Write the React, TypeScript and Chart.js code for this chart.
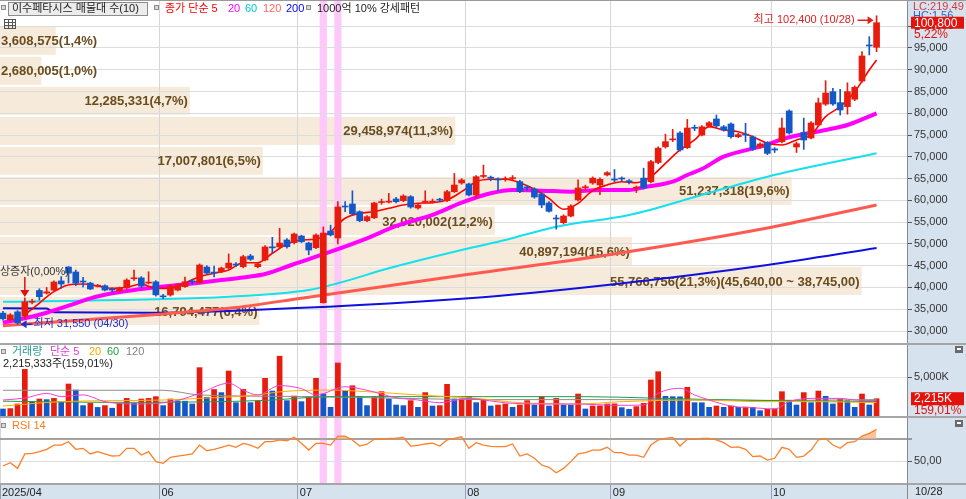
import React, { useEffect, useRef } from "react";
import { Chart, registerables } from "chart.js";

Chart.register(...registerables);

const F = "'Liberation Sans', 'Noto Sans CJK KR', sans-serif";
const AXIS_BG = "#d7e2ef";
const RED = "#e81c0e";
const BLUE = "#1458c8";
const PINK = "#ffc8fb";

// ---------------- data ----------------
const opens = [
  34100, 32600, 34400, 33400, 36600, 39300, 38700, 39400, 41500, 44700,
  43550, 41400, 41000, 40300, 40400, 39500, 39200, 39900, 42000, 42200,
  41000, 41300, 37900, 38270, 39400, 40180, 41400, 41100, 44700, 43400,
  43620, 44470, 45300, 44770, 47230, 44770, 46300, 49200, 49300, 50900,
  50300, 51820, 50200, 49130, 36500, 52970, 51360, 58600, 59170, 57400,
  55340, 56000, 59500, 59600, 60320, 59930, 60850, 58250, 59600, 59600,
  60200, 59930, 62000, 64000, 63770, 61240, 65500, 65200, 64800, 64800,
  65000, 64290, 62950, 62600, 61470, 59400, 55900, 54880, 56400, 60100,
  62900, 64000, 63540, 65830, 64800, 65000, 64400, 62800, 65100, 64290,
  68700, 72300, 73900, 75480, 72100, 76700, 75000, 77100, 78700, 76900,
  77550, 74630, 75100, 74560, 72260, 73250, 71700, 73480, 80530, 72260,
  75600, 74330, 77320, 82100, 84970, 82440, 81520, 83220, 87400, 95600,
  95160,
];
const highs = [
  34500, 34000, 34700, 37600, 37300, 39700, 40000, 41500, 42500, 44800,
  44000, 42300, 41200, 40700, 40600, 39900, 40100, 42000, 44000, 42500,
  43600, 41600, 38400, 40600, 40900, 42400, 41800, 45400, 45000, 44900,
  44700, 47700, 45700, 47400, 47600, 45600, 49600, 51500, 53600, 51200,
  52500, 52000, 50400, 52300, 53900, 54300, 59700, 59700, 62200, 57600,
  56500, 59600, 60300, 61600, 60700, 61300, 61100, 59200, 62200, 60300,
  60500, 62300, 66200, 65000, 64000, 65700, 68100, 65600, 65200, 65400,
  65700, 64600, 63400, 62900, 61800, 59700, 56600, 56700, 59000, 64700,
  63500, 65400, 65200, 66600, 67100, 65400, 64800, 63300, 67400, 69200,
  72300, 75200, 76300, 75800, 78600, 77300, 77200, 78100, 79600, 77200,
  77800, 75400, 77700, 74800, 73200, 73500, 72100, 78900, 80800, 73400,
  78900, 78100, 83500, 87500, 85750, 85500, 87000, 86300, 94150, 97600,
  102400,
];
const lows = [
  32500, 32300, 31550, 32800, 36200, 37100, 38500, 39200, 39800, 41000,
  40400, 40100, 39500, 40100, 39200, 38900, 39000, 39700, 41600, 40000,
  40800, 38000, 37400, 38000, 39200, 40000, 40700, 40900, 43000, 42400,
  43400, 44300, 44800, 44500, 46200, 44500, 46100, 47900, 49100, 49000,
  50000, 50300, 47500, 48900, 36400, 51800, 50000, 57400, 56700, 55100,
  55100, 55800, 59100, 59400, 59400, 59700, 58200, 58000, 59400, 59400,
  59700, 59700, 61800, 63700, 61000, 60500, 65200, 64500, 62200, 64400,
  64700, 61800, 62300, 60500, 58300, 57300, 53400, 54600, 56200, 59900,
  62400, 63700, 61300, 65600, 64300, 64500, 63800, 61800, 62600, 64000,
  68400, 72000, 73500, 71300, 71900, 76000, 74800, 76900, 76900, 75900,
  74300, 74400, 73500, 71500, 72000, 70500, 71000, 73200, 75200, 71000,
  71700, 74100, 77000, 81800, 81800, 79600, 79800, 82900, 87100, 93400,
  94150,
];
const closes = [
  32800, 33700, 31900, 36700, 36800, 37880, 39000, 41250, 40800, 43300,
  41000, 41250, 39650, 40400, 39400, 39400, 39900, 41700, 42100, 40300,
  41100, 38300, 37850, 40340, 40560, 41320, 41300, 45160, 43300, 43300,
  44470, 45600, 45150, 47070, 46470, 45390, 49300, 49100, 50200, 49360,
  52280, 50510, 48600, 52050, 52500, 52050, 58480, 58480, 56900, 55340,
  56250, 59400, 59600, 59750, 59700, 61010, 58480, 58940, 59750, 59800,
  60050, 62000, 63530, 64680, 61240, 65440, 65600, 65100, 64680, 64910,
  65140, 62000, 62850, 60780, 58940, 57500, 55730, 56400, 58710, 62850,
  63100, 65100, 64830, 66360, 64680, 64910, 64290, 62900, 62850, 68890,
  72000, 73500, 74100, 71580, 76630, 76550, 76900, 77850, 77100, 76170,
  74630, 75100, 75000, 71800, 72950, 70800, 71580, 76630, 75480, 73020,
  73870, 77780, 82400, 84650, 82140, 80760, 84970, 85980, 93170, 95460,
  100800,
];
// volume in thousands of shares
const volumesK = [
  900, 950, 1540, 5980, 1840, 2180, 2100, 2260, 1840, 4100,
  3330, 1330, 1620, 1100, 1330, 1000, 1620, 2260, 1620, 2180,
  2260, 2480, 1330, 2180, 1920, 1900, 1540, 6200, 2400, 3400,
  3000, 5770, 1710, 3420, 1710, 1920, 4830, 3200, 7670, 1970,
  2560, 1840, 2480, 4830, 2820, 1110, 6800, 3250, 3880, 2530,
  1330, 2480, 3120, 2180, 1410, 1330, 1970, 1110, 3000, 1280,
  1330, 4060, 2180, 2200, 2480, 1710, 2140, 1280, 1410, 1540,
  1110, 1410, 1970, 1410, 2480, 1280, 2260, 1410, 1400, 2820,
  900, 1280, 1300, 1540, 1560, 1070, 860, 1200, 1620, 4620,
  5680, 2530, 2480, 2460, 3680, 1710, 1700, 1110, 1280, 1110,
  1280, 1110, 1150, 1100, 680, 860, 920, 3120, 1970, 1410,
  3000, 1710, 3200, 2530, 1540, 2180, 1970, 1110, 2820, 1410,
  2215,
];
const rsi14 = [
  45.4, 48.4, 43.2, 56.5, 57.1, 58.6, 60.8, 64.7, 64.7, 67.8,
  60.8, 61.7, 56.5, 58.6, 56.5, 54.6, 55.0, 61.7, 61.7, 55.5,
  58.6, 49.4, 47.9, 53.4, 54.5, 55.5, 56.5, 64.7, 59.5, 60.8,
  62.6, 64.7, 62.6, 66.3, 64.7, 61.7, 67.8, 67.8, 69.4, 68.5,
  71.8, 66.3, 60.1, 66.3, 66.3, 64.7, 73.0, 73.0, 69.4, 63.8,
  65.5, 70.0, 70.0, 70.9, 71.0, 71.8, 63.8, 64.5, 65.7, 66.5,
  63.8, 69.4, 70.9, 72.4, 61.7, 66.9, 64.7, 63.5, 63.2, 63.2,
  65.7, 54.6, 56.5, 52.5, 46.3, 44.2, 39.2, 43.2, 49.4, 56.5,
  57.7, 60.1, 60.1, 62.6, 57.7, 57.7, 55.5, 55.5, 53.4, 64.7,
  69.4, 70.9, 71.8, 63.8, 70.0, 70.0, 70.9, 70.9, 69.4, 66.9,
  62.6, 63.0, 60.8, 54.0, 54.6, 50.9, 52.5, 62.6, 60.8, 53.4,
  54.6, 60.1, 69.4, 70.9, 64.7, 61.7, 66.9, 67.8, 73.0, 75.5,
  79.2,
];

// moving averages: [day index, value]
const ma5Pts = [
  [3, 33680], [5, 36430], [7, 39030], [9, 40570], [11, 40800], [13, 40340], [15, 39800], [17, 40030],
  [19, 40800], [21, 39800], [23, 39800], [25, 41090], [27, 42470], [29, 43250], [31, 44010], [33, 45690],
  [35, 45690], [37, 47850], [39, 49980], [41, 50900], [43, 51060], [45, 52810], [47, 55890], [49, 57040],
  [51, 57400], [53, 58180], [55, 58940], [57, 59330], [59, 59470], [61, 60090], [63, 62000], [65, 64290],
  [67, 64850], [69, 64850], [71, 64060], [73, 62540], [75, 60480], [77, 57950], [79, 59330], [81, 62230],
  [83, 63540], [85, 64290], [87, 64060], [89, 65440], [91, 68520], [93, 71580], [95, 73870], [97, 76930],
  [99, 76170], [101, 75780], [103, 74630], [105, 73110], [107, 72720], [109, 73870], [111, 75020],
  [113, 79230], [115, 81520], [117, 84970], [119, 89950], [120, 92250],
];
const ma20Pts = [
  [0, 31900], [3, 32920], [6, 34200], [9, 35810], [12, 37510], [15, 38660], [18, 39420], [21, 40040],
  [24, 40570], [27, 41090], [30, 41700], [33, 42300], [36, 43090], [40, 45390], [45, 48220], [50, 51290],
  [54, 54120], [59, 56650], [63, 59470], [67, 61630], [70, 62390], [74, 62230], [78, 62000], [82, 62390],
  [86, 62390], [88, 63010], [92, 64290], [94, 65830], [96, 67200], [99, 70040], [104, 72340], [108, 74490],
  [113, 76170], [116, 77320], [120, 80000],
];
const ma60Pts = [
  [0, 36700], [31, 37880], [42, 39420], [46, 40960], [53, 44400], [64, 49000], [69, 50900], [76, 53960],
  [86, 56650], [96, 61240], [105, 65440], [120, 70820],
];
const ma120Pts = [
  [0, 31220], [11, 32530], [22, 33900], [32, 35400], [41, 37540], [64, 43020], [83, 47460], [105, 53660], [120, 58940],
];
const ma200Pts = [
  [0, 35210], [6, 35150], [7, 34300], [20, 34200], [31, 34600], [64, 37500], [83, 40570], [105, 45160], [120, 49060],
];
const vma5Pts = [
  [0, 2050], [3, 2300], [6, 2900], [8, 2500], [11, 2700], [14, 1840], [18, 1540], [21, 1600], [24, 2000],
  [27, 2900], [31, 4200], [33, 3300], [35, 2700], [38, 3900], [41, 3500], [43, 2700], [47, 3750], [50, 3300],
  [54, 2350], [57, 2050], [60, 1710], [64, 2260], [66, 2050], [70, 1620], [75, 1540], [79, 1540], [84, 1370],
  [88, 1400], [90, 2900], [93, 3550], [95, 2700], [97, 2050], [100, 1280], [104, 1000], [106, 900], [108, 1840],
  [111, 2260], [115, 2260], [117, 2050], [120, 1970],
];
const vma20Pts = [
  [0, 1280], [8, 1840], [22, 2050], [27, 2260], [35, 2700], [38, 3100], [45, 3330], [50, 3120], [57, 2700],
  [65, 2260], [71, 1710], [79, 1540], [85, 1840], [96, 2050], [104, 1840], [112, 1840], [120, 1710],
];
const vma60Pts = [
  [0, 1900], [14, 1750], [27, 1800], [36, 2000], [45, 2480], [66, 2480], [80, 2480], [89, 2300], [96, 2140],
  [104, 2000], [120, 1840],
];
const vma120Pts = [
  [0, 3300], [22, 3300], [27, 2700], [41, 2500], [55, 2260], [66, 2100], [83, 2100], [105, 2000], [120, 2100],
];

// volume profile (매물대), top band first
const bandVolumes = [3608575, 2680005, 12285331, 29458974, 17007801, 51237318, 32020002, 40897194, 55766756, 16794477];
const bandPct = ["1,4", "1,0", "4,7", "11,3", "6,5", "19,6", "12,2", "15,6", "21,3", "6,4"];
const BAND_BASE = 31150;
const BAND_STEP = 6895;
const maxBandRange = "(45,640,00 ~ 38,745,00)";

const priceTicks = [30000, 35000, 40000, 45000, 50000, 55000, 60000, 65000, 70000, 75000, 80000, 85000, 90000, 95000, 100000];
const volTicks = [5000];
const rsiTicks = [50, 70];
const monthTickIdx = [-0.41, 21.5, 40.5, 63.5, 83.5, 105.5];
const monthLabels = ["2025/04", "06", "07", "08", "09", "10"];
const lastDateLabel = "10/28";
const signalIdx = [44, 46];
const rightsIdx = 3;

// ---------------- helpers ----------------
const X_MIN = -0.41;
const X_MAX = 124.18;
const idx = closes.map((_, i) => i);
const candleColor = idx.map((i) => (closes[i] >= opens[i] ? RED : BLUE));
const volColor = idx.map((i) => (i > 0 && volumesK[i] >= volumesK[i - 1] ? RED : BLUE));
const fmt = (n: number) => Math.round(n).toLocaleString("en-US");

function txt(ctx: any, s: string, x: number, y: number, color: string, font = `11px ${F}`, align = "left") {
  ctx.font = font;
  ctx.fillStyle = color;
  ctx.textAlign = align;
  ctx.textBaseline = "middle";
  ctx.fillText(s, x, y);
}
function sq(ctx: any, x: number, y: number) {
  ctx.fillStyle = "#8c8c8c";
  ctx.fillRect(x, y, 5, 5);
  ctx.fillStyle = "#d8d8d8";
  ctx.fillRect(x + 1, y + 1, 3, 3);
}
function icon(ctx: any, x: number, y: number) {
  ctx.fillStyle = "#6a6a6a";
  ctx.fillRect(x, y, 8, 7);
  ctx.fillStyle = "#ffffff";
  ctx.fillRect(x + 2, y + 2, 4, 2);
}
function paintBg(chart: any) {
  const { ctx, chartArea: a, width, height, scales } = chart;
  ctx.save();
  ctx.fillStyle = AXIS_BG;
  ctx.fillRect(0, 0, width, height);
  ctx.fillStyle = "#ffffff";
  ctx.fillRect(a.left, a.top, a.right - a.left, a.bottom - a.top);
  ctx.restore();
  return { ctx, a, xs: scales.x };
}
function paintSignals(chart: any) {
  const { ctx, chartArea: a, scales } = chart;
  ctx.save();
  ctx.fillStyle = PINK;
  signalIdx.forEach((i) => {
    const x = scales.x.getPixelForValue(i);
    ctx.fillRect(x - 3.6, a.top, 7.2, a.bottom - a.top);
  });
  ctx.restore();
}
function hline(ctx: any, y: number, w: number, lw = 2, color = "#a6a6a6") {
  ctx.fillStyle = color;
  ctx.fillRect(0, y, w, lw);
}

function xScale(showLabels: boolean) {
  return {
    type: "linear",
    min: X_MIN,
    max: X_MAX,
    offset: false,
    afterBuildTicks: (s: any) => {
      s.ticks = (showLabels ? monthTickIdx : monthTickIdx.slice(1)).map((v) => ({ value: v }));
    },
    grid: { offset: false, color: "#d6d6d6", lineWidth: 1, drawTicks: showLabels, tickLength: 15, tickColor: "#94a0b4" },
    border: { display: false },
    ticks: {
      display: showLabels,
      autoSkip: false,
      maxRotation: 0,
      minRotation: 0,
      align: "start",
      padding: -13,
      labelOffset: 2,
      color: "#222",
      font: { family: F, size: 11 },
      callback: (_v: any, i: number) => monthLabels[i],
    },
    afterFit: (s: any) => {
      s.height = showLabels ? 15 : 0;
      s.paddingLeft = 0;
      s.paddingRight = 0;
    },
  };
}
function yScale(min: number, max: number, ticks: number[], label: (v: number) => string, gridColor: any, gridWidth: any) {
  return {
    type: "linear",
    position: "right",
    min,
    max,
    afterBuildTicks: (s: any) => {
      s.ticks = ticks.map((v) => ({ value: v }));
    },
    grid: { color: gridColor, lineWidth: gridWidth, drawTicks: true, tickLength: 5, tickColor: "#555", tickWidth: 1 },
    border: { display: true, color: "#8a8a8a", width: 1 },
    ticks: { color: "#333", font: { family: F, size: 11 }, padding: 2, callback: (v: number) => label(v) },
    afterFit: (s: any) => {
      s.width = 59;
      s.paddingTop = 0;
      s.paddingBottom = 0;
    },
  };
}
const lineDs = (pts: number[][], color: string, width: number, order: number, yAxisID = "y") => ({
  type: "line",
  data: pts.map(([x, y]) => ({ x, y })),
  borderColor: color,
  borderWidth: width,
  pointRadius: 0,
  cubicInterpolationMode: "monotone",
  fill: false,
  order,
  yAxisID,
});
const baseOptions = {
  animation: false,
  responsive: false,
  events: [],
  layout: { padding: 0 },
  plugins: { legend: { display: false }, tooltip: { enabled: false } },
};

// ---------------- main price panel ----------------
const mainPlugin = {
  id: "mainDeco",
  beforeDraw(chart: any) {
    const { ctx, a } = paintBg(chart);
    const ys = chart.scales.y;
    const maxV = Math.max(...bandVolumes);
    const W = a.right - a.left;
    ctx.save();
    bandVolumes.forEach((v, k) => {
      const lo = BAND_BASE + (bandVolumes.length - 1 - k) * BAND_STEP;
      const yTop = ys.getPixelForValue(lo + BAND_STEP) + 1;
      const yBot = ys.getPixelForValue(lo) - 1;
      ctx.fillStyle = "#f6eadb";
      ctx.fillRect(a.left, yTop, (v / maxV) * 0.95 * W, yBot - yTop);
    });
    ctx.restore();
    paintSignals(chart);
  },
  beforeDatasetsDraw(chart: any) {
    const { ctx, chartArea: a } = chart;
    const ys = chart.scales.y;
    const maxV = Math.max(...bandVolumes);
    const W = a.right - a.left;
    ctx.save();
    ctx.font = `bold 13px ${F}`;
    bandVolumes.forEach((v, k) => {
      const lo = BAND_BASE + (bandVolumes.length - 1 - k) * BAND_STEP;
      const yc = (ys.getPixelForValue(lo + BAND_STEP) + ys.getPixelForValue(lo)) / 2 + 1;
      let s = `${fmt(v)}(${bandPct[k]}%)`;
      if (v === maxV) s += maxBandRange;
      const tw = ctx.measureText(s).width;
      const end = a.left + (v / maxV) * 0.95 * W - 2;
      const x = Math.max(end, a.left + 1 + tw);
      txt(ctx, s, x, yc, "#6b4c1d", `bold 13px ${F}`, "right");
    });
    ctx.restore();
  },
  afterDraw(chart: any) {
    const { ctx, width, scales } = chart;
    const xs = scales.x;
    const ys = scales.y;
    ctx.save();
    hline(ctx, 0, width, 1, "#9a9a9a");
    // legend row
    sq(ctx, 1, 5);
    ctx.fillStyle = "#ececec";
    ctx.fillRect(8, 2, 139, 13);
    ctx.strokeStyle = "#8c8c8c";
    ctx.lineWidth = 1;
    ctx.strokeRect(8.5, 2.5, 139, 13);
    txt(ctx, "이수페타시스 매물대 수(10)", 12, 9, "#222");
    sq(ctx, 154, 5);
    const parts: [string, number, string][] = [
      ["종가 단순 5", 165, "#ff0000"],
      ["20", 228, "#ff00ff"],
      ["60", 245, "#00c8d8"],
      ["120", 263, "#ff6464"],
      ["200", 286, "#0000ff"],
    ];
    parts.forEach(([s, x, c]) => txt(ctx, s, x, 9, c));
    sq(ctx, 306, 5);
    txt(ctx, "1000억 10% 강세패턴", 317, 9, "#222");
    // table icon
    ctx.strokeStyle = "#555";
    ctx.strokeRect(4.5, 19.5, 11, 9);
    ctx.beginPath();
    ctx.moveTo(4.5, 22.5); ctx.lineTo(15.5, 22.5);
    ctx.moveTo(4.5, 25.5); ctx.lineTo(15.5, 25.5);
    ctx.moveTo(8.5, 19.5); ctx.lineTo(8.5, 28.5);
    ctx.moveTo(12.5, 19.5); ctx.lineTo(12.5, 28.5);
    ctx.stroke();

    // highest price annotation
    let hi = 0;
    highs.forEach((h, i) => { if (h > highs[hi]) hi = i; });
    const hx = xs.getPixelForValue(hi);
    const hy = ys.getPixelForValue(highs[hi]) + 4.5;
    txt(ctx, `최고 ${fmt(highs[hi])} (10/28)`, hx - 22, hy, "#e01e1e", `11px ${F}`, "right");
    ctx.strokeStyle = "#e01e1e";
    ctx.fillStyle = "#e01e1e";
    ctx.lineWidth = 1.5;
    ctx.beginPath(); ctx.moveTo(hx - 19, hy); ctx.lineTo(hx - 8, hy); ctx.stroke();
    ctx.beginPath(); ctx.moveTo(hx - 3, hy); ctx.lineTo(hx - 9, hy - 4); ctx.lineTo(hx - 9, hy + 4); ctx.closePath(); ctx.fill();

    // lowest price annotation
    let lo = 0;
    lows.forEach((l, i) => { if (l < lows[lo]) lo = i; });
    const lx = xs.getPixelForValue(lo);
    const ly = ys.getPixelForValue(lows[lo]);
    ctx.strokeStyle = "#1a2fd0";
    ctx.fillStyle = "#1a2fd0";
    ctx.beginPath(); ctx.moveTo(lx + 9, ly); ctx.lineTo(lx + 15, ly); ctx.stroke();
    ctx.beginPath(); ctx.moveTo(lx + 3, ly); ctx.lineTo(lx + 9, ly - 4); ctx.lineTo(lx + 9, ly + 4); ctx.closePath(); ctx.fill();
    txt(ctx, `최저 ${fmt(lows[lo])} (04/30)`, lx + 16, ly, "#1a2fd0");

    // rights-offering marker
    const rx = xs.getPixelForValue(rightsIdx);
    const ry = ys.getPixelForValue(highs[rightsIdx]) - 1;
    ctx.strokeStyle = "#e01010";
    ctx.fillStyle = "#e01010";
    ctx.lineWidth = 1.5;
    ctx.beginPath(); ctx.moveTo(rx, ry - 20); ctx.lineTo(rx, ry - 6); ctx.stroke();
    ctx.beginPath(); ctx.moveTo(rx, ry); ctx.lineTo(rx - 4.5, ry - 7); ctx.lineTo(rx + 4.5, ry - 7); ctx.closePath(); ctx.fill();
    ctx.font = `11px ${F}`;
    const w1 = ctx.measureText("유").width;
    txt(ctx, "유상증자(0,00%)", -w1, ry - 25, "#333");

    // right-axis badges
    txt(ctx, "LC:219,49", 913, 7, "#d83a3a", `11px ${F}`);
    txt(ctx, "HC:1,56", 913, 16, "#2f5fc0", `11px ${F}`);
    const cy = ys.getPixelForValue(closes[closes.length - 1]);
    ctx.fillStyle = "#e3120b";
    ctx.fillRect(911, cy - 6, 53, 12);
    txt(ctx, fmt(closes[closes.length - 1]), 914, cy + 0.5, "#ffffff", `12px ${F}`);
    txt(ctx, "5,22%", 914, cy + 12, "#e3120b", `12px ${F}`);
    ctx.restore();
  },
};

function mainConfig(): any {
  return {
    type: "bar",
    data: {
      datasets: [
        {
          type: "bar",
          data: idx.map((i) => ({ x: i, y: [lows[i], highs[i]] })),
          backgroundColor: candleColor,
          barThickness: 1,
          grouped: false,
          order: 0,
        },
        {
          type: "bar",
          data: idx.map((i) => ({ x: i, y: [opens[i], closes[i]] })),
          backgroundColor: candleColor,
          barThickness: 6,
          minBarLength: 1,
          grouped: false,
          order: 0,
        },
        lineDs(ma5Pts, "#ff0000", 1.6, 1),
        lineDs(ma20Pts, "#ff00ff", 4, 2),
        lineDs(ma60Pts, "#14e0ee", 2, 3),
        lineDs(ma120Pts, "#ff5a50", 3, 4),
        lineDs(ma200Pts, "#1010e0", 2, 5),
      ],
    },
    options: {
      ...baseOptions,
      scales: {
        x: xScale(false),
        y: yScale(27245, 106022, priceTicks, (v) => fmt(v), "#dcdcdc", 1),
      },
    },
    plugins: [mainPlugin],
  };
}

// ---------------- volume panel ----------------
const volPlugin = {
  id: "volDeco",
  beforeDraw(chart: any) {
    paintBg(chart);
    paintSignals(chart);
  },
  afterDraw(chart: any) {
    const { ctx, width, scales } = chart;
    ctx.save();
    hline(ctx, 0, width, 2);
    sq(ctx, 1, 6);
    txt(ctx, "거래량", 12, 9, "#2a9a9a");
    txt(ctx, "단순 5", 50, 9, "#e040d0");
    txt(ctx, "20", 89, 9, "#f0a800");
    txt(ctx, "60", 107, 9, "#1e9e46");
    txt(ctx, "120", 126, 9, "#808080");
    const last = volumesK[volumesK.length - 1];
    txt(ctx, "2,215,333주(159,01%)", 3, 21, "#222");
    icon(ctx, 955, 3);
    const cy = scales.y.getPixelForValue(last);
    ctx.fillStyle = "#e3120b";
    ctx.fillRect(911, cy - 6.5, 53, 13);
    txt(ctx, `${fmt(last)}K`, 914, cy, "#ffffff", `12px ${F}`);
    txt(ctx, "159,01%", 914, cy + 12, "#e3120b", `12px ${F}`);
    ctx.restore();
  },
};
function volConfig(): any {
  return {
    type: "bar",
    data: {
      datasets: [
        {
          type: "bar",
          data: idx.map((i) => ({ x: i, y: volumesK[i] })),
          backgroundColor: volColor,
          barThickness: 5,
          grouped: false,
          order: 9,
        },
        lineDs(vma5Pts, "#f040d8", 1, 1),
        lineDs(vma20Pts, "#ffb000", 1, 2),
        lineDs(vma60Pts, "#1e9e46", 1, 3),
        lineDs(vma120Pts, "#8c8c8c", 1, 4),
      ],
    },
    options: {
      ...baseOptions,
      scales: {
        x: xScale(false),
        y: yScale(0, 9360, volTicks, (v) => `${fmt(v)}K`, "#e4e4e4", 1),
      },
    },
    plugins: [volPlugin],
  };
}

// ---------------- RSI panel ----------------
const rsiPlugin = {
  id: "rsiDeco",
  beforeDraw(chart: any) {
    paintBg(chart);
    paintSignals(chart);
  },
  afterDraw(chart: any) {
    const { ctx, width, chartArea: a } = chart;
    ctx.save();
    hline(ctx, 0, width, 2);
    hline(ctx, a.bottom - 1, width, 2);
    sq(ctx, 1, 7);
    txt(ctx, "RSI 14", 12, 10, "#ff7a1a");
    icon(ctx, 955, 4);
    ctx.fillStyle = "#8a8a8a";
    ctx.fillRect(907, a.bottom, 1, chart.height - a.bottom);
    txt(ctx, lastDateLabel, 915, 76, "#222");
    ctx.restore();
  },
};
function rsiConfig(): any {
  return {
    type: "line",
    data: {
      datasets: [
        {
          type: "line",
          data: idx.map((i) => ({ x: i, y: rsi14[i] })),
          borderColor: "#ff7f27",
          borderWidth: 1.3,
          pointRadius: 0,
          tension: 0,
          fill: { target: { value: 70 }, above: "rgba(248,176,130,0.75)", below: "rgba(0,0,0,0)" },
        },
      ],
    },
    options: {
      ...baseOptions,
      scales: {
        x: xScale(true),
        y: yScale(
          28.8,
          91.5,
          rsiTicks,
          (v) => (v === 50 ? "50,00" : ""),
          (c: any) => (c.tick && c.tick.value === 70 ? "#a0a0a0" : "#dcdcdc"),
          (c: any) => (c.tick && c.tick.value === 70 ? 2 : 1)
        ),
      },
    },
    plugins: [rsiPlugin],
  };
}

export default function App() {
  const mainRef = useRef<HTMLCanvasElement>(null);
  const volRef = useRef<HTMLCanvasElement>(null);
  const rsiRef = useRef<HTMLCanvasElement>(null);
  useEffect(() => {
    const charts = [
      new Chart(mainRef.current as any, mainConfig()),
      new Chart(volRef.current as any, volConfig()),
      new Chart(rsiRef.current as any, rsiConfig()),
    ];
    return () => charts.forEach((c) => c.destroy());
  }, []);
  const cs = (h: number) => ({ display: "block", width: 966, height: h });
  return (
    <div style={{ position: "absolute", left: 0, top: 0, width: 966, height: 499, background: AXIS_BG, overflow: "hidden" }}>
      <canvas ref={mainRef} width={966} height={343} style={cs(343)} />
      <canvas ref={volRef} width={966} height={73} style={cs(73)} />
      <canvas ref={rsiRef} width={966} height={83} style={cs(83)} />
    </div>
  );
}
